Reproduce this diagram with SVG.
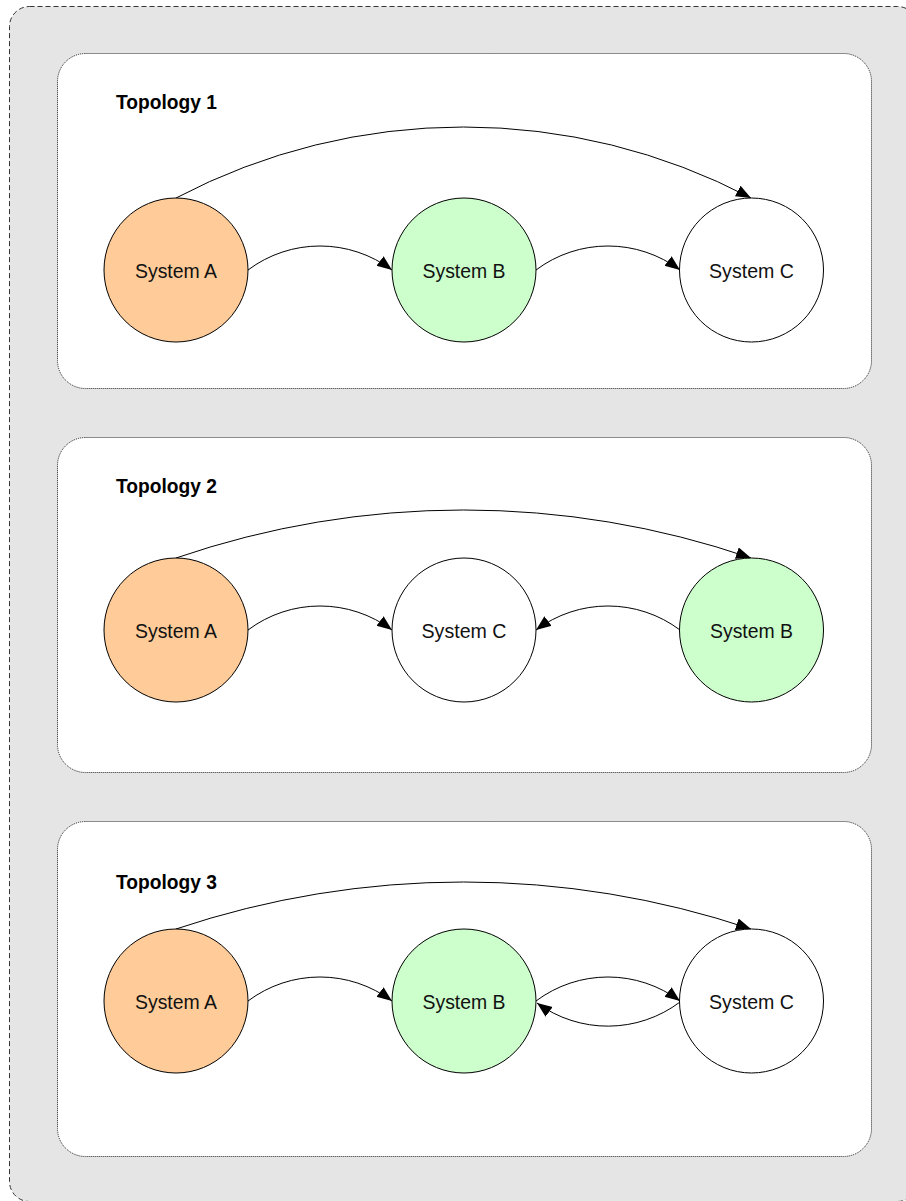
<svg xmlns="http://www.w3.org/2000/svg" width="906" height="1201" viewBox="0 0 906 1201">
<defs>
<style>
.outer{fill:#e5e5e5;stroke:#333;stroke-width:1;stroke-dasharray:5,3}
.panel{fill:#fff;stroke:#222;stroke-width:1;stroke-dasharray:1,1}
.node{stroke:#000;stroke-width:1}
.a{fill:#ffcc99}.b{fill:#ccffcc}.c{fill:#fff}
.lbl{font-family:"Liberation Sans",Arial,sans-serif;font-size:21px;fill:#111;text-anchor:middle}
.title{font-family:"Liberation Sans",Arial,sans-serif;font-size:21px;font-weight:bold;fill:#000}
.edge{fill:none;stroke:#000;stroke-width:1;marker-end:url(#arr)}
</style>
<marker id="arr" markerUnits="userSpaceOnUse" markerWidth="16" markerHeight="13" refX="15" refY="6" orient="auto">
<path d="M0,0 L15,6 L0,12 Z" fill="#000"/>
</marker>
</defs>
<rect class="outer" x="9.5" y="6.5" width="908" height="1195" rx="20"/>

<g id="panel1">
<rect class="panel" x="57.5" y="53.5" width="814" height="335" rx="28"/>
<text class="title" x="116" y="109" textLength="101" lengthAdjust="spacingAndGlyphs">Topology 1</text>
</g>
<g id="panel2">
<rect class="panel" x="57.5" y="437.5" width="814" height="335" rx="28"/>
<text class="title" x="116" y="493" textLength="101" lengthAdjust="spacingAndGlyphs">Topology 2</text>
</g>
<g id="panel3">
<rect class="panel" x="57.5" y="821.5" width="814" height="335" rx="28"/>
<text class="title" x="116" y="889" textLength="101" lengthAdjust="spacingAndGlyphs">Topology 3</text>
</g>

<g id="connectors">
<path class="edge" d="M176,198 A617.6,617.6 0 0 1 751,198"/>
<path class="edge" d="M248,270 A120,120 0 0 1 392,270"/>
<path class="edge" d="M536,270 A120,120 0 0 1 680,270"/>
<path class="edge" d="M176,558 A885,885 0 0 1 751,558"/>
<path class="edge" d="M248,630 A120,120 0 0 1 392,630"/>
<path class="edge" d="M680,630 A120,120 0 0 0 536,630"/>
<path class="edge" d="M176,929 A903,903 0 0 1 751,929"/>
<path class="edge" d="M248,1001 A120,120 0 0 1 392,1001"/>
<path class="edge" d="M536,1001 A120,120 0 0 1 680,1001"/>
<path class="edge" d="M680,1002 A120,120 0 0 1 537,1003"/>
</g>

<g id="t1-systemA"><circle class="node a" cx="176" cy="270" r="72"/><text class="lbl" x="176" y="277.5" textLength="82" lengthAdjust="spacingAndGlyphs">System A</text></g>
<g id="t1-systemB"><circle class="node b" cx="464" cy="270" r="72"/><text class="lbl" x="464" y="277.5" textLength="83" lengthAdjust="spacingAndGlyphs">System B</text></g>
<g id="t1-systemC"><circle class="node c" cx="751.5" cy="270" r="72"/><text class="lbl" x="751.5" y="277.5" textLength="85" lengthAdjust="spacingAndGlyphs">System C</text></g>

<g id="t2-systemA"><circle class="node a" cx="176" cy="630" r="72"/><text class="lbl" x="176" y="637.5" textLength="82" lengthAdjust="spacingAndGlyphs">System A</text></g>
<g id="t2-systemC"><circle class="node c" cx="464" cy="630" r="72"/><text class="lbl" x="464" y="637.5" textLength="85" lengthAdjust="spacingAndGlyphs">System C</text></g>
<g id="t2-systemB"><circle class="node b" cx="751.5" cy="630" r="72"/><text class="lbl" x="751.5" y="637.5" textLength="83" lengthAdjust="spacingAndGlyphs">System B</text></g>

<g id="t3-systemA"><circle class="node a" cx="176" cy="1001" r="72"/><text class="lbl" x="176" y="1008.5" textLength="82" lengthAdjust="spacingAndGlyphs">System A</text></g>
<g id="t3-systemB"><circle class="node b" cx="464" cy="1001" r="72"/><text class="lbl" x="464" y="1008.5" textLength="83" lengthAdjust="spacingAndGlyphs">System B</text></g>
<g id="t3-systemC"><circle class="node c" cx="751.5" cy="1001" r="72"/><text class="lbl" x="751.5" y="1008.5" textLength="85" lengthAdjust="spacingAndGlyphs">System C</text></g>
</svg>
